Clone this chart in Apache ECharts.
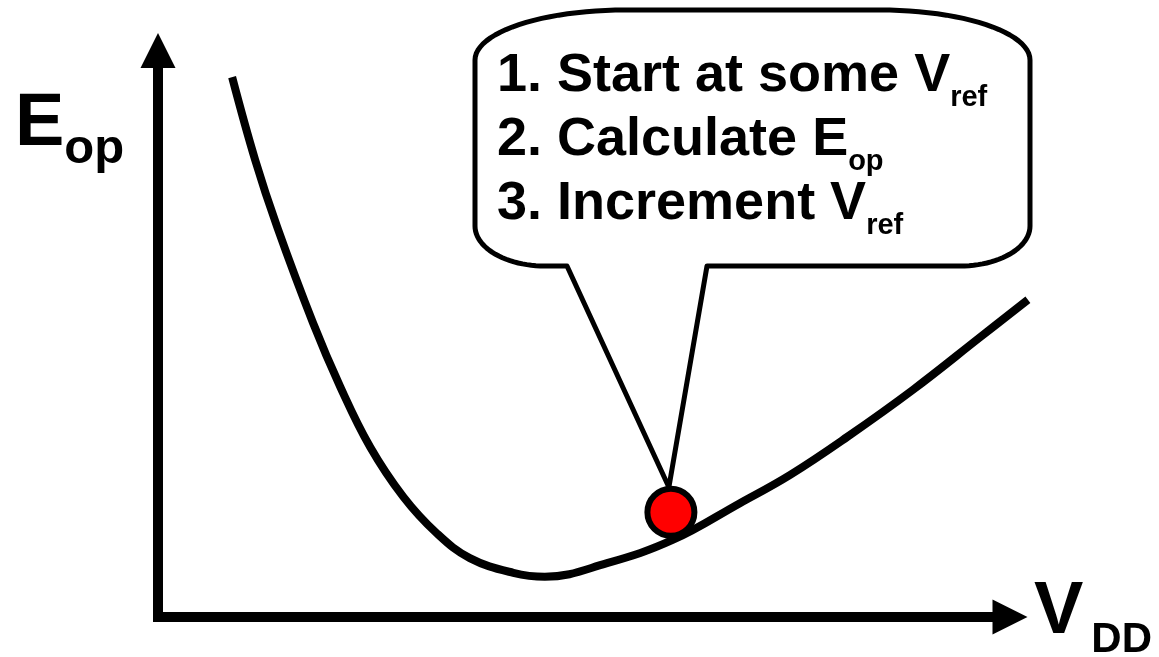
<!DOCTYPE html>
<html>
<head>
<meta charset="utf-8">
<script src="https://cdn.jsdelivr.net/npm/echarts@6/dist/echarts.min.js"></script>
<style>
html, body { margin: 0; padding: 0; background: #fff; }
#chart { width: 1159px; height: 657px; }
</style>
</head>
<body>
<div id="chart"></div>
<script>
// energy curve E_op(V_DD)
var curveX = [0.87, 1.14, 1.40, 1.82, 2.14, 2.49, 2.88, 3.27, 3.66, 4.17, 4.54, 5.27, 6.04, 6.83, 7.42, 8.09, 8.86, 9.65, 10.21]
var curveY = [9.53, 8.07, 6.88, 5.19, 4.06, 3.00, 2.12, 1.48, 1.04, 0.78, 0.71, 0.95, 1.36, 2.01, 2.51, 3.18, 4.01, 4.94, 5.60]

// current operating point (red dot)
var pointX = [6.02]
var pointY = [1.85]

// texts: [main, subscript]
var yTitle = ['E', 'op']
var xTitle = ['V', 'DD']
var steps = [
  ['1. Start at some V', 'ref'],
  ['2. Calculate E', 'op'],
  ['3. Increment V', 'ref']
]

var FONT = '"Liberation Sans", Arial, sans-serif'
var measureCtx = document.createElement('canvas').getContext('2d')

function textWidth(txt, size) {
  measureCtx.font = 'bold ' + size + 'px ' + FONT
  return measureCtx.measureText(txt).width
}

// one text piece, placed by its baseline
function textEl(x, base, txt, size) {
  return {
    type: 'text',
    x: x,
    y: base - 0.3465 * size,
    z: 10,
    silent: true,
    style: {
      text: txt,
      fontSize: size,
      fontWeight: 'bold',
      fontFamily: FONT,
      fill: '#000',
      align: 'left',
      verticalAlign: 'middle'
    }
  }
}

// main text followed by a dropped subscript
function withSub(x, base, pair, size, subSize, drop, gap) {
  var w = textWidth(pair[0], size)
  return [
    textEl(x, base, pair[0], size),
    textEl(x + w + (gap || 0), base + drop, pair[1], subSize)
  ]
}

function arcPts(cx, cy, rx, ry, a0, a1) {
  var pts = []
  var n = 24
  for (var i = 0; i <= n; i++) {
    var a = a0 + (a1 - a0) * i / n
    pts.push([cx + rx * Math.cos(a), cy + ry * Math.sin(a)])
  }
  return pts
}

function bubblePoints(tip) {
  var L = 475, R = 1030, T = 10, B = 266
  var trx = 150, try_ = 50, brx = 70, bry = 40
  var pts = [[567, B]]
  pts = pts.concat(arcPts(L + brx, B - bry, brx, bry, Math.PI / 2, Math.PI))
  pts = pts.concat(arcPts(L + trx, T + try_, trx, try_, Math.PI, Math.PI * 1.5))
  pts = pts.concat(arcPts(R - trx, T + try_, trx, try_, Math.PI * 1.5, Math.PI * 2))
  pts = pts.concat(arcPts(R - brx, B - bry, brx, bry, 0, Math.PI / 2))
  pts.push([707, B])
  pts.push(tip)
  return pts
}

var curveData = []
for (var i = 0; i < curveX.length; i++) {
  curveData.push([curveX[i], curveY[i]])
}
var pointData = [[pointX[0], pointY[0]]]

var axisLine = {
  show: true,
  symbol: ['none', 'triangle'],
  symbolSize: [35, 35],
  lineStyle: { color: '#000', width: 10, cap: 'square' }
}
var hidden = { show: false }

var chart = echarts.init(document.getElementById('chart'), null, { renderer: 'canvas' })

// grid 0 carries the visible arrow axes, grid 1 (same scale, a bit wider)
// carries the curve so it can run past the arrow head like in the original
chart.setOption({
  animation: false,
  backgroundColor: '#fff',
  grid: [
    { left: 158, right: 149, top: 50.5, bottom: 40 },
    { left: 158, right: 131, top: 50.5, bottom: 40 }
  ],
  xAxis: [
    {
      type: 'value', gridIndex: 0, min: 0, max: 10,
      axisLine: axisLine, axisTick: hidden, axisLabel: hidden, splitLine: hidden
    },
    {
      type: 'value', gridIndex: 1, min: 0, max: 10 * 870 / 852,
      axisLine: hidden, axisTick: hidden, axisLabel: hidden, splitLine: hidden
    }
  ],
  yAxis: [
    {
      type: 'value', gridIndex: 0, min: 0, max: 10,
      axisLine: axisLine, axisTick: hidden, axisLabel: hidden, splitLine: hidden
    },
    {
      type: 'value', gridIndex: 1, min: 0, max: 10,
      axisLine: hidden, axisTick: hidden, axisLabel: hidden, splitLine: hidden
    }
  ],
  series: [
    {
      name: 'Eop',
      type: 'line',
      xAxisIndex: 1,
      yAxisIndex: 1,
      data: curveData,
      smooth: 0.4,
      symbol: 'none',
      clip: false,
      silent: true,
      lineStyle: { color: '#000', width: 8 },
      z: 3
    },
    {
      name: 'point',
      type: 'scatter',
      xAxisIndex: 1,
      yAxisIndex: 1,
      data: pointData,
      symbolSize: 47,
      silent: true,
      itemStyle: { color: '#ff0000', borderColor: '#000', borderWidth: 6, opacity: 1 },
      z: 5
    }
  ]
})

var dot = chart.convertToPixel({ seriesIndex: 1 }, pointData[0])
var tip = [dot[0] - 2, dot[1] - 25]

var texts = []
texts = texts.concat(withSub(15, 150, yTitle, 74, 49, 16, 0))
texts = texts.concat(withSub(1034, 638, xTitle, 74, 42, 17, 8))
for (var k = 0; k < steps.length; k++) {
  texts = texts.concat(withSub(497, 95 + k * 64, steps[k], 54, 29, 13, 0))
}

chart.setOption({
  graphic: [
    {
      type: 'polygon',
      silent: true,
      z: 1,
      shape: { points: bubblePoints(tip) },
      style: { fill: '#fff', stroke: '#000', lineWidth: 5, lineJoin: 'round' }
    }
  ].concat(texts)
})
</script>
</body>
</html>
